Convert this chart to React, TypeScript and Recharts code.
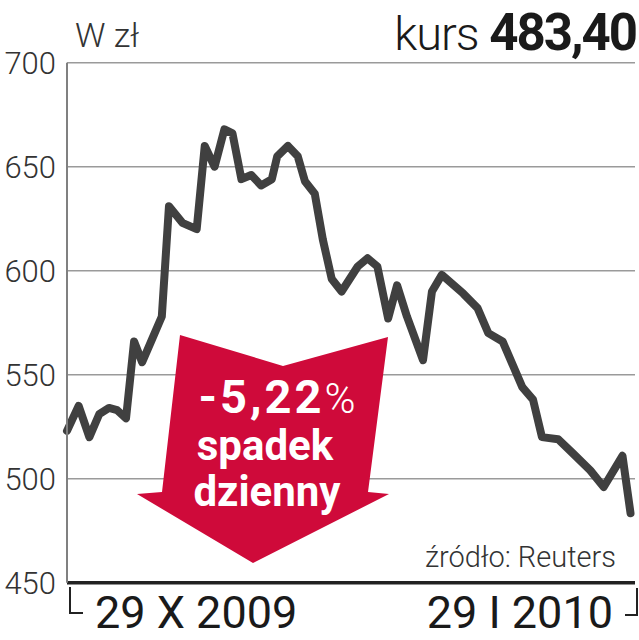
import { LineChart, Line, XAxis, YAxis, CartesianGrid, ReferenceLine } from "recharts";

// sesje od 29 X 2009 do 29 I 2010 (numer sesji) i kurs zamknięcia w zł
const sesja = [
  0, 1.3, 2.5, 3.6, 4.7, 5.6, 6.6, 7.5, 8.4, 9.5, 10.6, 11.4, 12.9, 14.5, 15.4, 16.5, 17.6, 18.5,
  19.5, 20.6, 21.7, 22.9, 23.5, 24.7, 25.8, 26.6, 27.7, 28.6, 29.6, 30.7, 32.5, 33.6, 34.7, 35.9,
  36.9, 38, 39.8, 40.8, 41.9, 44.3, 45.9, 47.1, 48.7, 50.9, 52.1, 53.1, 54.9, 56.6, 58.5, 60, 62.1, 63
];
const kurs = [
  523, 535, 520, 531, 534, 533, 529, 566, 556, 567, 578, 631, 623, 620, 660, 650, 668, 666,
  644, 646, 641, 644, 655, 660, 655, 643, 637, 615, 596, 590, 602, 606, 602, 577,
  593, 578, 557, 590, 598, 589, 582, 570, 566, 544, 538, 520, 519, 512, 504, 496, 511, 483.4
];
const yTicks = [450, 500, 550, 600, 650, 700];
const dataOd = "29 X 2009";
const dataDo = "29 I 2010";

const data = sesja.map((s, i) => ({ s, kurs: kurs[i] }));

const FONT = "Roboto, 'DejaVu Sans', sans-serif";
const RED = "#cf0a3a";

export default function App() {
  return (
    <div style={{ position: "absolute", left: 0, top: 0, width: 639, height: 640, background: "#fff" }}>
      <LineChart width={639} height={640} data={data} margin={{ top: 62.7, right: 4, bottom: 57.3, left: 0 }}>
        <CartesianGrid vertical={false} stroke="#9a9a9a" strokeWidth={1.5} />
        <XAxis dataKey="s" type="number" domain={[0, 63.5]} hide />
        <YAxis
          domain={[450, 700]}
          ticks={yTicks}
          width={67}
          tickLine={false}
          tickSize={0}
          tickMargin={11}
          axisLine={{ stroke: "#808080", strokeWidth: 2 }}
          tick={{ fill: "#333", fontSize: 31, fontWeight: 300, fontFamily: FONT }}
        />
        <ReferenceLine y={450} stroke="#222" strokeWidth={3.5} />
        <Line
          dataKey="kurs"
          stroke="#404040"
          strokeWidth={8}
          strokeLinejoin="round"
          strokeLinecap="round"
          dot={false}
          isAnimationActive={false}
        />
      </LineChart>
      <svg width={639} height={640} style={{ position: "absolute", left: 0, top: 0, pointerEvents: "none" }}>
        <text x={75} y={47} fontFamily={FONT} fontSize={34} fontWeight={300} fill="#333">
          W zł
        </text>
        <text x={636} y={50} textAnchor="end" fontFamily={FONT} fill="#1a1a1a">
          <tspan fontSize={47} fontWeight={300} letterSpacing={-1}>kurs </tspan>
          <tspan fontSize={51} fontWeight={700} letterSpacing={-2}>483,40</tspan>
        </text>
        <polygon
          points="180,335 283,366 388,337 368,492 389,494 253,563 137,494 162,492"
          fill={RED}
        />
        <text x={277} y={413} textAnchor="middle" fontFamily={FONT} fill="#fff">
          <tspan fontSize={47} fontWeight={700} letterSpacing={3}>-5,22</tspan>
          <tspan fontSize={42} fontWeight={300}>%</tspan>
        </text>
        <text x={265} y={460} textAnchor="middle" fontFamily={FONT} fontSize={42} fontWeight={700} fill="#fff">
          spadek
        </text>
        <text x={267} y={506} textAnchor="middle" fontFamily={FONT} fontSize={42} fontWeight={700} fill="#fff">
          dzienny
        </text>
        <text x={616} y={567} textAnchor="end" fontFamily={FONT} fontSize={29} fontWeight={300} fill="#333">
          źródło: Reuters
        </text>
        <polyline points="70,587 70,613 83,613" fill="none" stroke="#222" strokeWidth={2} />
        <polyline points="625,615 637,615 637,588" fill="none" stroke="#222" strokeWidth={2} />
        <text x={95} y={628} fontFamily={FONT} fontSize={45} fontWeight={400} fill="#1a1a1a">
          {dataOd}
        </text>
        <text x={613} y={628} textAnchor="end" fontFamily={FONT} fontSize={45} fontWeight={400} fill="#1a1a1a">
          {dataDo}
        </text>
      </svg>
    </div>
  );
}
